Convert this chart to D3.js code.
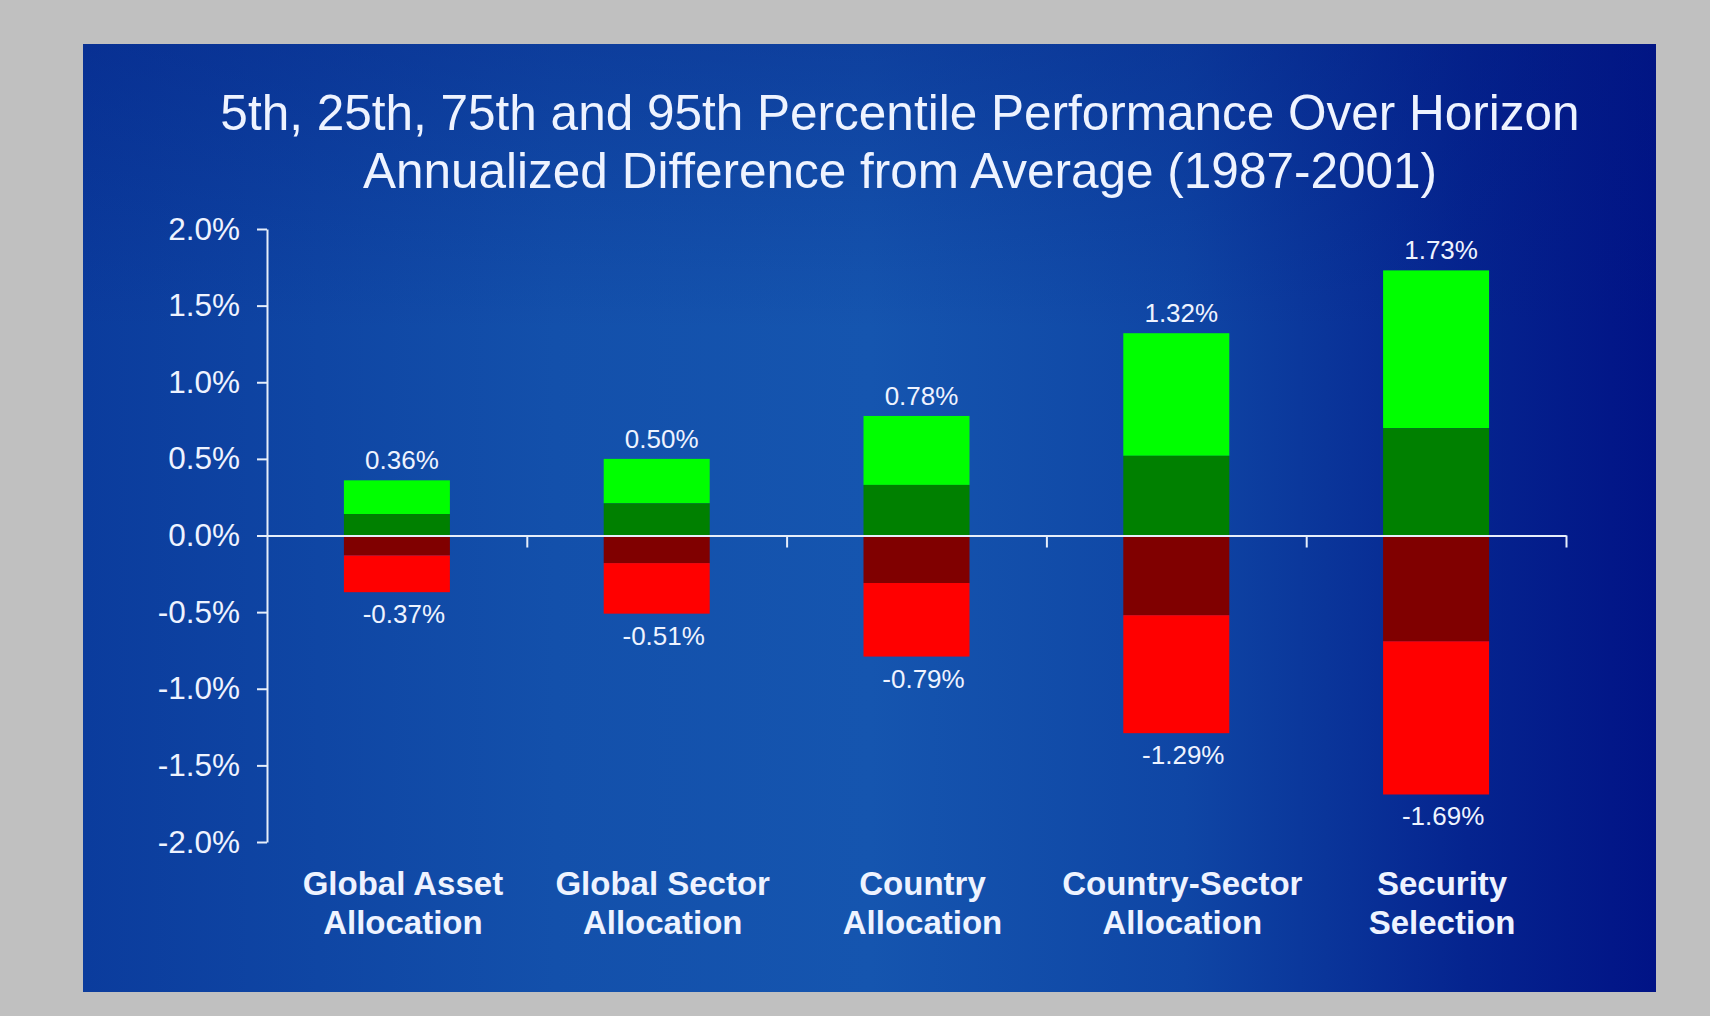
<!DOCTYPE html>
<html>
<head>
<meta charset="utf-8">
<script src="https://cdn.jsdelivr.net/npm/d3@7"></script>
<style>
  body { margin: 0; background: #c0c0c0; }
  svg { display: block; font-family: "Liberation Sans", Arial, sans-serif; }
</style>
</head>
<body>
<svg id="chart" width="1710" height="1016"></svg>
<script>
  /***** Data *****/
  var categories = [
    ["Global Asset", "Allocation"],
    ["Global Sector", "Allocation"],
    ["Country", "Allocation"],
    ["Country-Sector", "Allocation"],
    ["Security", "Selection"]
  ];
  var p95 = [0.36, 0.50, 0.78, 1.32, 1.73];
  var p75 = [0.14, 0.21, 0.33, 0.52, 0.70];
  var p25 = [-0.13, -0.18, -0.31, -0.52, -0.69];
  var p5 = [-0.37, -0.51, -0.79, -1.29, -1.69];
  var yTicks = [2.0, 1.5, 1.0, 0.5, 0.0, -0.5, -1.0, -1.5, -2.0];
  var titleLines = [
    "5th, 25th, 75th and 95th Percentile Performance Over Horizon",
    "Annualized Difference from Average (1987-2001)"
  ];

  /***** Configuration *****/
  var panel = {x: 83, y: 44, w: 1573, h: 948};
  var plot = {left: 267, right: 1566, top: 229, bottom: 842};
  var textColor = "#eef3ff";
  var axisColor = "#e6eefa";

  var svg = d3.select("#chart");
  var defs = svg.append("defs");

  // panel background: horizontal blue gradient plus top shading
  var lg = defs.append("linearGradient").attr("id", "bgH");
  [[0, "#0b3c9d"], [0.3, "#1350ab"], [0.5, "#1555af"], [0.7, "#0f46a5"], [0.88, "#05248f"], [1, "#011386"]]
    .forEach(function (s) { lg.append("stop").attr("offset", s[0]).attr("stop-color", s[1]); });
  var vg = defs.append("linearGradient").attr("id", "bgV")
    .attr("x1", 0).attr("y1", 0).attr("x2", 0).attr("y2", 1);
  vg.append("stop").attr("offset", 0).attr("stop-color", "#021a80").attr("stop-opacity", 0.35);
  vg.append("stop").attr("offset", 0.3).attr("stop-color", "#021a80").attr("stop-opacity", 0);
  vg.append("stop").attr("offset", 1).attr("stop-color", "#021a80").attr("stop-opacity", 0);

  svg.append("rect").attr("x", panel.x).attr("y", panel.y)
    .attr("width", panel.w).attr("height", panel.h).attr("fill", "url(#bgH)");
  svg.append("rect").attr("x", panel.x).attr("y", panel.y)
    .attr("width", panel.w).attr("height", panel.h).attr("fill", "url(#bgV)");

  /***** Scales *****/
  var x = d3.scaleBand()
    .domain(d3.range(categories.length))
    .range([plot.left, plot.right])
    .paddingInner(0.592)
    .paddingOuter(0.296);
  var xEdge = d3.scaleLinear().domain([0, categories.length]).range([plot.left, plot.right]);
  var y = d3.scaleLinear().domain([-2, 2]).range([plot.bottom, plot.top]);

  /***** Title *****/
  svg.append("g").selectAll("text")
    .data(titleLines)
    .join("text")
    .attr("x", 900)
    .attr("y", function (d, i) { return 130 + i * 58; })
    .attr("text-anchor", "middle")
    .attr("fill", textColor)
    .attr("font-size", 49.5)
    .text(function (d) { return d; });

  /***** Bars *****/
  var segments = [];
  categories.forEach(function (c, i) {
    segments.push({i: i, from: p75[i], to: p95[i], color: "#00ff00"});
    segments.push({i: i, from: 0, to: p75[i], color: "#008000"});
    segments.push({i: i, from: p25[i], to: 0, color: "#800000"});
    segments.push({i: i, from: p5[i], to: p25[i], color: "#ff0000"});
  });

  svg.append("g").selectAll("rect")
    .data(segments)
    .join("rect")
    .attr("x", function (d) { return x(d.i); })
    .attr("width", x.bandwidth())
    .attr("y", function (d) { return y(Math.max(d.from, d.to)); })
    .attr("height", function (d) { return Math.abs(y(d.from) - y(d.to)); })
    .attr("fill", function (d) { return d.color; });

  /***** Value labels *****/
  var labels = svg.append("g")
    .attr("fill", textColor)
    .attr("font-size", 26)
    .attr("text-anchor", "middle");

  labels.selectAll("text.top")
    .data(p95)
    .join("text")
    .attr("class", "top")
    .attr("x", function (d, i) { return x(i) + x.bandwidth() / 2 + 5; })
    .attr("y", function (d) { return y(d) - 11; })
    .text(function (d) { return d.toFixed(2) + "%"; });

  labels.selectAll("text.bottom")
    .data(p5)
    .join("text")
    .attr("class", "bottom")
    .attr("x", function (d, i) { return x(i) + x.bandwidth() / 2 + 7; })
    .attr("y", function (d) { return y(d) + 31; })
    .text(function (d) { return d.toFixed(2) + "%"; });

  /***** Axes *****/
  var yAxis = d3.axisLeft(y)
    .tickValues(yTicks)
    .tickFormat(function (d) { return d.toFixed(1) + "%"; })
    .tickSize(10)
    .tickSizeOuter(0)
    .tickPadding(17);

  var yAxisG = svg.append("g")
    .attr("transform", "translate(" + plot.left + ",0)")
    .call(yAxis);
  yAxisG.selectAll("path, line").attr("stroke", axisColor).attr("stroke-width", 2);
  yAxisG.selectAll("text")
    .attr("fill", textColor)
    .attr("font-size", 31.5)
    .attr("font-family", "Liberation Sans, Arial, sans-serif");

  var xAxis = d3.axisBottom(xEdge)
    .tickValues(d3.range(1, categories.length + 1))
    .tickFormat("")
    .tickSize(12)
    .tickSizeOuter(0);

  var xAxisG = svg.append("g")
    .attr("transform", "translate(0," + y(0) + ")")
    .call(xAxis);
  xAxisG.selectAll("path, line").attr("stroke", axisColor).attr("stroke-width", 2);

  /***** Category labels *****/
  var catG = svg.append("g")
    .attr("fill", textColor)
    .attr("font-size", 33)
    .attr("font-weight", "bold")
    .attr("text-anchor", "middle");

  catG.selectAll("text")
    .data(categories)
    .join("text")
    .attr("x", function (d, i) { return x(i) + x.bandwidth() / 2 + 6; })
    .attr("y", 895)
    .each(function (d) {
      var t = d3.select(this);
      d.forEach(function (line, k) {
        t.append("tspan")
          .attr("x", t.attr("x"))
          .attr("dy", k === 0 ? 0 : 39)
          .text(line);
      });
    });
</script>
</body>
</html>
